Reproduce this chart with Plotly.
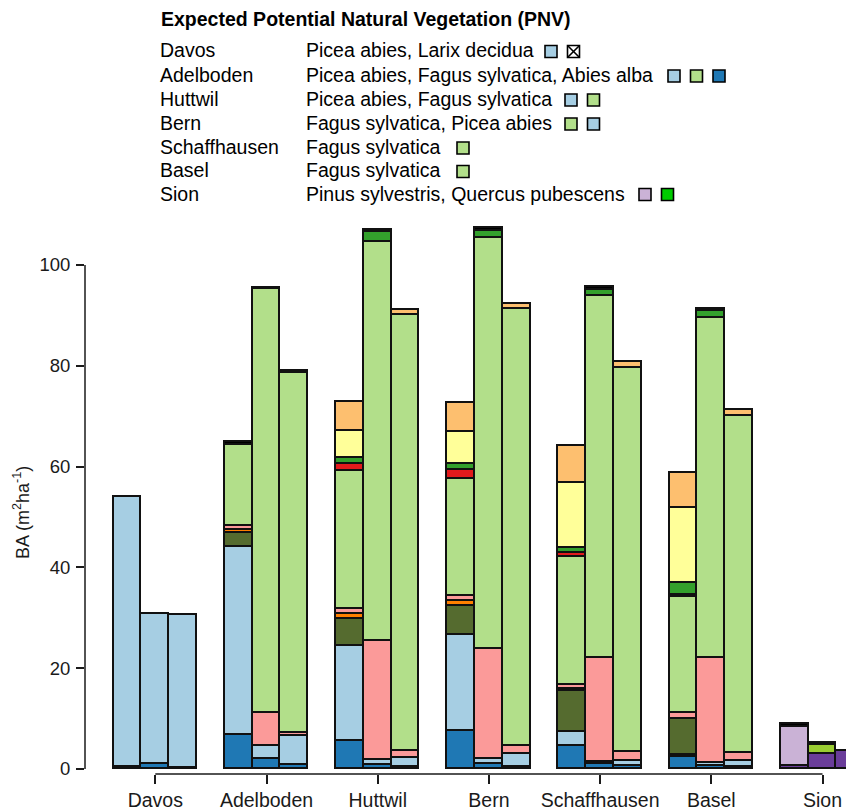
import plotly.graph_objects as go

# Sites, three bars per site
sites = ["Davos", "Adelboden", "Huttwil", "Bern", "Schaffhausen", "Basel", "Sion"]
bars_per_site = 3

# Basal area (m2/ha) per species group, one value per bar (7 sites x 3 bars),
# listed from the bottom of each stack to the top
purple_group = [0, 0, 0,   0, 0, 0,   0, 0, 0,   0, 0, 0,   0, 0, 0,   0, 0, 0,   0.5, 3.0, 3.6]
abies_alba = [0.3, 0.9, 0.2,   6.7, 2.0, 0.8,   5.6, 0.7, 0.4,   7.6, 0.9, 0.4,   4.6, 0.9, 0.6,   2.3, 0.6, 0.3,   0, 0, 0]
picea_abies = [53.7, 29.9, 30.4,   37.3, 2.6, 5.7,   18.9, 1.1, 1.8,   18.9, 1.1, 2.6,   2.8, 0.4, 1.0,   0.5, 0.5, 1.2,   0, 0, 0]
olive_group = [0, 0, 0,   2.8, 0, 0,   5.2, 0, 0,   5.8, 0, 0,   8.1, 0, 0,   7.2, 0, 0,   0, 0, 0]
orange_group = [0, 0, 0,   0.7, 0, 0,   1.0, 0, 0,   1.1, 0, 0,   0.4, 0, 0,   0, 0, 0,   0, 0, 0]
pink_group = [0, 0, 0,   0.8, 6.5, 0.6,   1.1, 23.5, 1.4,   0.9, 21.8, 1.6,   0.8, 20.7, 1.8,   1.2, 20.9, 1.6,   0, 0, 0]
pinus_sylvestris = [0, 0, 0,   0, 0, 0,   0, 0, 0,   0, 0, 0,   0, 0, 0,   0, 0, 0,   7.9, 0, 0]
yellowgreen_group = [0, 0, 0,   0, 0, 0,   0, 0, 0,   0, 0, 0,   0, 0, 0,   0, 0, 0,   0, 1.8, 0]
fagus_sylvatica = [0, 0, 0,   15.9, 84.2, 71.4,   27.3, 79.2, 86.5,   23.3, 81.5, 86.7,   25.4, 71.8, 76.2,   23.0, 67.5, 66.9,   0, 0, 0]
red_group = [0, 0, 0,   0, 0, 0,   1.5, 0, 0,   1.8, 0, 0,   0.7, 0, 0,   0.4, 0, 0,   0, 0, 0]
green_group = [0, 0, 0,   0, 0, 0,   1.1, 2.0, 0,   1.1, 1.4, 0,   1.1, 1.2, 0,   2.4, 1.3, 0,   0, 0, 0]
yellow_group = [0, 0, 0,   0, 0, 0,   5.4, 0, 0,   6.4, 0, 0,   12.8, 0, 0,   14.8, 0, 0,   0, 0, 0]
lightorange_group = [0, 0, 0,   0, 0, 0,   5.8, 0, 0.9,   5.7, 0, 0.9,   7.4, 0, 1.1,   7.0, 0, 1.3,   0, 0, 0]
black_group = [0, 0, 0,   0.7, 0.2, 0.4,   0, 0.5, 0,   0, 0.7, 0,   0, 0.6, 0,   0, 0.5, 0,   0.6, 0.4, 0]

stack = [
    ("purple group", purple_group, "#6A3D9A"),
    ("Abies alba", abies_alba, "#1F78B4"),
    ("Picea abies", picea_abies, "#A6CEE3"),
    ("olive group", olive_group, "#556B2F"),
    ("orange group", orange_group, "#FF7F00"),
    ("pink group", pink_group, "#FB9A99"),
    ("Pinus sylvestris", pinus_sylvestris, "#CAB2D6"),
    ("yellow-green group", yellowgreen_group, "#9ACD32"),
    ("Fagus sylvatica", fagus_sylvatica, "#B2DF8A"),
    ("red group", red_group, "#E31A1C"),
    ("green group", green_group, "#33A02C"),
    ("yellow group", yellow_group, "#FFFF99"),
    ("light orange group", lightorange_group, "#FDBF6F"),
    ("black group", black_group, "#000000"),
]

# Legend block: site, PNV text, key colours ("cross" = crossed box)
pnv_sites = ["Davos", "Adelboden", "Huttwil", "Bern", "Schaffhausen", "Basel", "Sion"]
pnv_text = [
    "Picea abies, Larix decidua",
    "Picea abies, Fagus sylvatica, Abies alba",
    "Picea abies, Fagus sylvatica",
    "Fagus sylvatica, Picea abies",
    "Fagus sylvatica",
    "Fagus sylvatica",
    "Pinus sylvestris, Quercus pubescens",
]
pnv_keys = [
    ["#A6CEE3", "cross"],
    ["#A6CEE3", "#B2DF8A", "#1F78B4"],
    ["#A6CEE3", "#B2DF8A"],
    ["#B2DF8A", "#A6CEE3"],
    ["#B2DF8A"],
    ["#B2DF8A"],
    ["#CAB2D6", "#00CC00"],
]
key_x0 = [545, 668, 565, 565, 457, 457, 639]   # left edge of first key (px)
row_y = [50.5, 75.0, 99.0, 123.0, 147.0, 170.5, 193.5]

# ---- page geometry (pixels) ----
W, H = 846, 812
L, R, T, B = 85, 0, 225, 38
PW, PH = W - L - R, H - T - B


def px_x(px):
    return (px - L) / PW


def px_y(py):
    return (H - B - py) / PH


FONT = "Liberation Sans, Arial, sans-serif"
INK = "#1a1a1a"
TXT = 19.5

x_pos = [g * (bars_per_site + 1) + b for g in range(len(sites)) for b in range(bars_per_site)]
centers = [g * (bars_per_site + 1) + 1 for g in range(len(sites))]

fig = go.Figure()
for name, vals, col in stack:
    fig.add_trace(go.Bar(
        x=x_pos, y=[v if v else None for v in vals], name=name, width=1,
        marker=dict(color=col, line=dict(color="#111111", width=1.6)),
        showlegend=False,
    ))

shapes = []
# axis lines spanning only the tick range
shapes.append(dict(type="line", xref="paper", yref="y", x0=0, x1=0, y0=0, y1=100,
                   line=dict(color=INK, width=1.5)))
shapes.append(dict(type="line", xref="x", yref="paper", x0=centers[0], x1=centers[-1], y0=0, y1=0,
                   line=dict(color=INK, width=1.5)))

annotations = [
    dict(text="<b>Expected Potential Natural Vegetation (PNV)</b>", x=px_x(159), y=px_y(19),
         xref="paper", yref="paper", xanchor="left", yanchor="middle", showarrow=False,
         font=dict(family=FONT, size=TXT, color="#000")),
    dict(text="BA (m<sup>2</sup>ha<sup>-1</sup>)", x=px_x(22), y=51, xref="paper", yref="y",
         textangle=-90, xanchor="center", yanchor="middle", showarrow=False,
         font=dict(family=FONT, size=18, color=INK)),
]

KS = 12  # key square size (px)
for i, site in enumerate(pnv_sites):
    annotations.append(dict(text=site, x=px_x(158), y=px_y(row_y[i]), xref="paper", yref="paper",
                            xanchor="left", yanchor="middle", showarrow=False,
                            font=dict(family=FONT, size=TXT, color="#000")))
    annotations.append(dict(text=pnv_text[i], x=px_x(304), y=px_y(row_y[i]), xref="paper", yref="paper",
                            xanchor="left", yanchor="middle", showarrow=False,
                            font=dict(family=FONT, size=TXT, color="#000")))
    for k, key in enumerate(pnv_keys[i]):
        x0 = key_x0[i] + k * 22.5
        y0 = row_y[i] + 1 - KS / 2
        fill = "#ffffff" if key == "cross" else key
        shapes.append(dict(type="rect", xref="paper", yref="paper",
                           x0=px_x(x0), x1=px_x(x0 + KS), y0=px_y(y0), y1=px_y(y0 + KS),
                           fillcolor=fill, line=dict(color="#000", width=1.6)))
        if key == "cross":
            for (a, b, c, d) in [(x0, y0, x0 + KS, y0 + KS), (x0, y0 + KS, x0 + KS, y0)]:
                shapes.append(dict(type="line", xref="paper", yref="paper",
                                   x0=px_x(a), y0=px_y(b), x1=px_x(c), y1=px_y(d),
                                   line=dict(color="#000", width=1.6)))

y_lo = -(H - B - 769) / 5.04
y_hi = (769 - T) / 5.04
x_lo = (L - 127.5) / 27.8
x_hi = (W - R - 127.5) / 27.8

fig.update_layout(
    width=W, height=H, margin=dict(l=L, r=R, t=T, b=B, autoexpand=False),
    barmode="stack", bargap=0, plot_bgcolor="white", paper_bgcolor="white",
    font=dict(family=FONT, size=TXT, color=INK),
    xaxis=dict(range=[x_lo, x_hi], tickvals=centers, ticktext=sites, ticks="outside",
               ticklen=9, tickwidth=1.5, tickcolor=INK, showline=False, showgrid=False,
               zeroline=False, tickfont=dict(size=TXT, color=INK), ticklabelstandoff=0),
    yaxis=dict(range=[y_lo, y_hi], tickvals=[0, 20, 40, 60, 80, 100], ticks="outside",
               ticklen=8, tickwidth=1.5, tickcolor=INK, showline=False, showgrid=False,
               zeroline=False, tickfont=dict(size=18.5, color=INK), ticklabelstandoff=2),
    shapes=shapes, annotations=annotations,
)

fig.write_html("out.html")
